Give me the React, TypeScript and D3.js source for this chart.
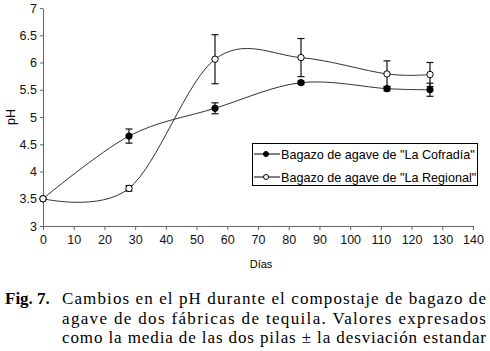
import React, { useEffect, useRef } from "react";
import * as d3 from "d3";

const days = [0, 28, 56, 84, 112, 126];
const cofradia = [3.5, 4.65, 5.16, 5.63, 5.52, 5.5];
const cofradiaErr = [0, 0.13, 0.1, 0.03, 0.04, 0.12];
const regional = [3.5, 3.69, 6.06, 6.09, 5.79, 5.78];
const regionalErr = [0, 0.05, 0.45, 0.35, 0.24, 0.22];
const xTicks = [0, 10, 20, 30, 40, 50, 60, 70, 80, 90, 100, 110, 120, 130, 140];
const yTicks = [3, 3.5, 4, 4.5, 5, 5.5, 6, 6.5, 7];
const captionLines = [
  "Cambios en el pH durante el compostaje de bagazo de",
  "agave de dos fábricas de tequila. Valores expresados",
  "como la media de las dos pilas ± la desviación estandar",
];

const series = [
  { name: 'Bagazo de agave de "La Cofradía"', values: cofradia, err: cofradiaErr, fill: "#000" },
  { name: 'Bagazo de agave de "La Regional"', values: regional, err: regionalErr, fill: "#fff" },
];

const App: React.FC = () => {
  const svgRef = useRef<SVGSVGElement | null>(null);

  useEffect(() => {
    if (!svgRef.current) return;
    const svg = d3.select(svgRef.current);
    svg.selectAll("*").remove();

    const x = d3.scaleLinear().domain([0, 140]).range([43, 473]);
    const y = d3.scaleLinear().domain([3, 7]).range([226, 8]);
    const font = "'Liberation Sans', Arial, sans-serif";

    // axes
    const xAxis = svg.append("g")
      .attr("transform", `translate(0,${y(3)})`)
      .call(d3.axisBottom(x).tickValues(xTicks).tickSize(4).tickSizeOuter(0).tickPadding(5));
    const yAxis = svg.append("g")
      .attr("transform", `translate(${x(0)},0)`)
      .call(d3.axisLeft(y).tickValues(yTicks).tickSize(3).tickSizeOuter(0).tickPadding(3).tickFormat(d3.format("")));
    [xAxis, yAxis].forEach(a => {
      a.selectAll("path,line").attr("stroke", "#666").attr("stroke-width", 1);
      a.selectAll("text").attr("font-family", font).attr("font-size", 12.5).attr("fill", "#111");
    });

    svg.append("text")
      .attr("transform", `translate(15,117) rotate(-90)`)
      .attr("text-anchor", "middle")
      .attr("font-family", font).attr("font-size", 12.5)
      .text("pH");
    svg.append("text")
      .attr("x", 261).attr("y", 268)
      .attr("text-anchor", "middle")
      .attr("font-family", font).attr("font-size", 11)
      .text("Días");

    const line = d3.line<number>()
      .x((_, i) => x(days[i]))
      .y(d => y(d))
      .curve(d3.curveCardinal.tension(0));

    series.forEach(s => {
      svg.append("path")
        .attr("d", line(s.values))
        .attr("fill", "none")
        .attr("stroke", "#333")
        .attr("stroke-width", 1);
    });

    series.forEach(s => {
      const g = svg.append("g");
      s.values.forEach((v, i) => {
        const e = s.err[i];
        if (e > 0) {
          const cx = x(days[i]);
          g.append("line").attr("x1", cx).attr("x2", cx).attr("y1", y(v - e)).attr("y2", y(v + e))
            .attr("stroke", "#111").attr("stroke-width", 1.2);
          [v - e, v + e].forEach(t => {
            g.append("line").attr("x1", cx - 3.5).attr("x2", cx + 3.5).attr("y1", y(t)).attr("y2", y(t))
              .attr("stroke", "#111").attr("stroke-width", 1.2);
          });
        }
      });
      g.selectAll("circle").data(s.values).enter().append("circle")
        .attr("cx", (_, i) => x(days[i]))
        .attr("cy", d => y(d))
        .attr("r", 3.2)
        .attr("fill", s.fill)
        .attr("stroke", "#000")
        .attr("stroke-width", 1);
    });

    // legend
    const lg = svg.append("g");
    lg.append("rect").attr("x", 252.5).attr("y", 143.5).attr("width", 225).attr("height", 42)
      .attr("fill", "#fff").attr("stroke", "#000").attr("stroke-width", 1);
    series.forEach((s, i) => {
      const ly = 154 + i * 23;
      lg.append("line").attr("x1", 254).attr("x2", 280).attr("y1", ly).attr("y2", ly)
        .attr("stroke", "#000").attr("stroke-width", 1);
      lg.append("circle").attr("cx", 266).attr("cy", ly).attr("r", 2.5)
        .attr("fill", s.fill).attr("stroke", "#000");
      lg.append("text").attr("x", 281).attr("y", ly + 4.5)
        .attr("font-family", font).attr("font-size", 12.6)
        .text(s.name);
    });

    // caption
    const serif = "'Times New Roman', 'Liberation Serif', serif";
    svg.append("text").attr("x", 5).attr("y", 304)
      .attr("font-family", serif).attr("font-size", 17).attr("font-weight", "bold")
      .text("Fig. 7.");
    captionLines.forEach((t, i) => {
      svg.append("text").attr("x", 62).attr("y", 304 + i * 19.5)
        .attr("font-family", serif).attr("font-size", 17)
        .attr("textLength", 424).attr("lengthAdjust", "spacing")
        .text(t);
    });
  }, []);

  return (
    <svg
      ref={svgRef}
      width={490}
      height={351}
      style={{ position: "absolute", left: 0, top: 0, background: "#fff" }}
    />
  );
};

export default App;
